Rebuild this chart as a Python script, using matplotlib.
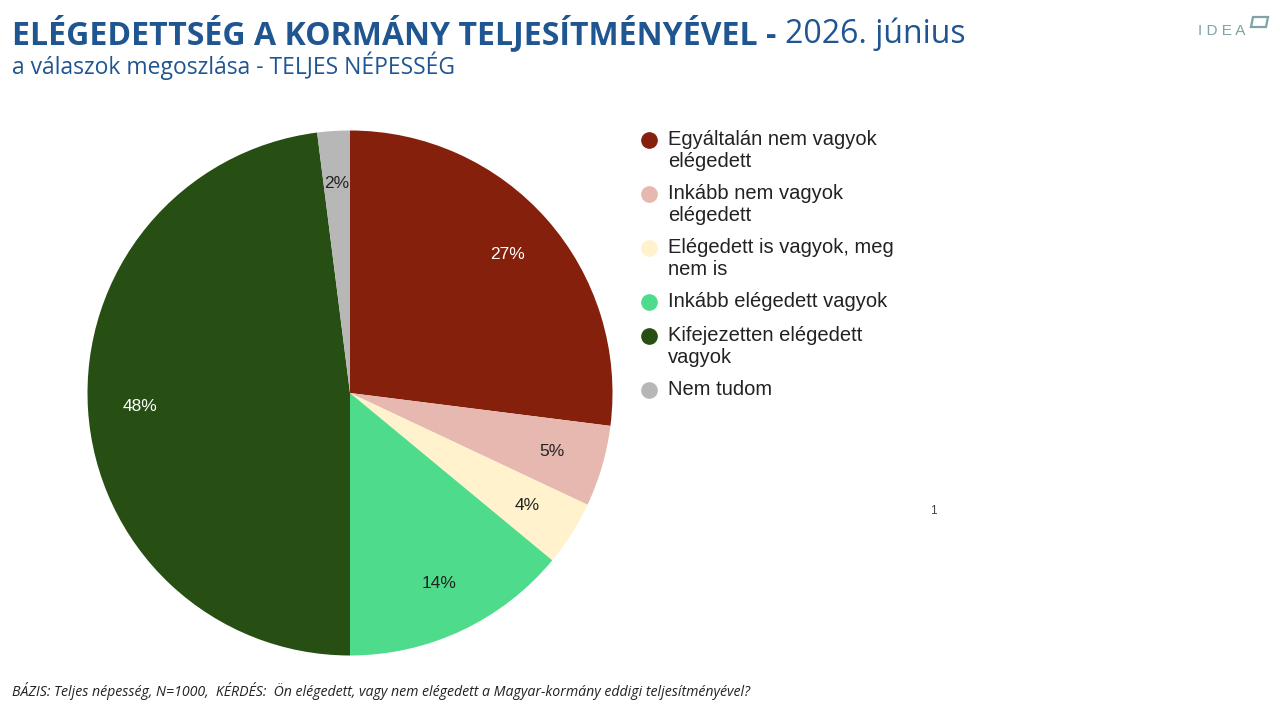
import matplotlib
matplotlib.use("Agg")
from matplotlib import pyplot as plt
from matplotlib.patches import Polygon

# data
kategoriak = ['Egyáltalán nem vagyok\nelégedett',
              'Inkább nem vagyok\nelégedett',
              'Elégedett is vagyok, meg\nnem is',
              'Inkább elégedett vagyok',
              'Kifejezetten elégedett\nvagyok',
              'Nem tudom']
ertekek = [27, 5, 4, 14, 48, 2]
szinek = ['#85200C', '#E6B8AF', '#FFF2CC', '#4EDC8C', '#274E13', '#B7B7B7']
cimke_szin = ['white', '#222222', '#222222', '#222222', 'white', '#222222']

kek = '#1F5591'

fig = plt.figure(figsize=(12.8, 7.2), dpi=100)
fig.patch.set_facecolor('white')

# pie axes: center (350, 393), radius ~262 px
ax = fig.add_axes([87.5 / 1280, (720 - 393 - 262.5) / 720, 525 / 1280, 525 / 720])
wedges, texts, autotexts = ax.pie(ertekek, colors=szinek, startangle=90,
                                  counterclock=False, autopct='%d%%',
                                  pctdistance=0.8, radius=1,
                                  wedgeprops=dict(linewidth=0))
for t, c in zip(autotexts, cimke_szin):
    t.set_color(c)
    t.set_fontsize(12.5)
    t.set_family('Liberation Sans')
ax.set_xlim(-1, 1)
ax.set_ylim(-1, 1)
ax.set_aspect('equal')
ax.axis('off')

# legend (manual, so the dot sits on the first line)
y = 140
for lab, col in zip(kategoriak, szinek):
    fig.text(668 / 1280, 1 - (y - 10) / 720, lab, fontsize=14.5, family='Liberation Sans',
             color='#222222', va='top', ha='left', linespacing=1.17)
    sor = lab.count('\n') + 1
    fig.add_artist(plt.Line2D([649 / 1280], [1 - y / 720],
                              marker='o', markersize=11, color=col,
                              linestyle='none', transform=fig.transFigure))
    y += 54 if sor > 1 else 34

# title
r = fig.canvas.get_renderer()
t1 = fig.text(12 / 1280, 1 - 34 / 720, 'ELÉGEDETTSÉG A KORMÁNY TELJESÍTMÉNYÉVEL - ',
              fontsize=23, fontweight='bold', family='Open Sans', color=kek,
              va='center', ha='left')
bb = t1.get_window_extent(renderer=r)
fig.text(bb.x1 / 1280, 1 - 34 / 720, '2026. június', fontsize=23,
         family='Open Sans', color=kek, va='center', ha='left')
fig.text(12 / 1280, 1 - 66 / 720, 'a válaszok megoszlása - TELJES NÉPESSÉG',
         fontsize=16.5, family='Open Sans', color=kek, va='center', ha='left')

# footer
fig.text(12 / 1280, 1 - 691 / 720,
         'BÁZIS: Teljes népesség, N=1000,  KÉRDÉS:  Ön elégedett, vagy nem elégedett a Magyar-kormány eddigi teljesítményével?',
         fontsize=10.2, style='italic', family='Open Sans', color='#222222',
         va='center', ha='left')

fig.text(933 / 1280, 1 - 511 / 720, '1', fontsize=8.5, family='Liberation Sans',
         color='#444444', va='center', ha='center')

# logo
fig.text(1222 / 1280, 1 - 31 / 720, 'I D E A', fontsize=11, family='Liberation Sans',
         color='#7FA3A6', va='center', ha='center')
fig.add_artist(Polygon([[1251 / 1280, 1 - 27 / 720], [1266 / 1280, 1 - 27 / 720],
                        [1268 / 1280, 1 - 17 / 720], [1253 / 1280, 1 - 17 / 720]],
                       closed=True, fill=False, edgecolor='#7FA3A6', linewidth=1.6,
                       transform=fig.transFigure))

fig.savefig('out.png', dpi=100, facecolor='white')
